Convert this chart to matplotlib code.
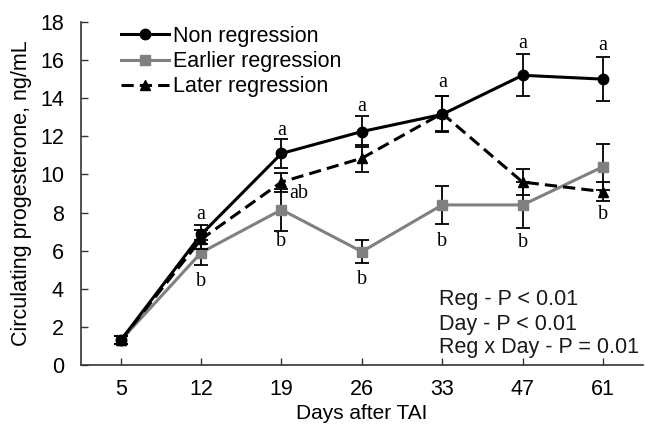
import matplotlib
matplotlib.use("Agg")
import matplotlib.pyplot as plt
from matplotlib.lines import Line2D
import numpy as np

days = ["5", "12", "19", "26", "33", "47", "61"]
non_mean = [1.3, 6.85, 11.1, 12.25, 13.15, 15.2, 15.0]
non_se = [0.2, 0.5, 0.75, 0.8, 0.95, 1.1, 1.15]
earlier_mean = [1.3, 5.9, 8.15, 5.95, 8.4, 8.4, 10.4]
earlier_se = [0.2, 0.65, 1.1, 0.6, 1.0, 1.2, 1.2]
later_mean = [1.3, 6.6, 9.6, 10.85, 13.2, 9.6, 9.1]
later_se = [0.2, 0.5, 0.5, 0.7, 0.9, 0.7, 0.5]

# significance letters: (category position, y value, text)
letters_a = [(1, 7.9, "a"), (2, 12.3, "a"), (3, 13.55, "a"), (4, 14.8, "a"), (5, 16.85, "a"), (6, 16.75, "a")]
letters_b = [(1, 4.4, "b"), (2, 6.5, "b"), (3, 4.5, "b"), (4, 6.5, "b"), (5, 6.45, "b"), (6, 7.9, "b")]
letters_ab = [(2.1, 9.0, "ab")]

stats_lines = ["Reg - P < 0.01", "Day - P < 0.01", "Reg x Day - P = 0.01"]

plt.rcParams['font.family'] = ['Liberation Sans', 'DejaVu Sans']

fig = plt.figure(figsize=(6.45, 4.30), dpi=100)
ax = fig.add_axes([0.125, 0.151, 0.872, 0.798])

x = np.arange(len(days))
gray = "#808080"
dash = (0, (4, 2))

common = dict(linewidth=2.2, ecolor="black", elinewidth=1.3, capsize=5, capthick=1.3)
ax.errorbar(x, earlier_mean, yerr=earlier_se, color=gray, marker="s", markersize=7.5,
            zorder=3, **common)
ax.errorbar(x, later_mean, yerr=later_se, color="black", marker="^", markersize=7.5,
            linestyle=dash, zorder=4, **common)
ax.errorbar(x, non_mean, yerr=non_se, color="black", marker="o", markersize=7.5,
            zorder=5, **common)

for xi, yi, t in letters_a + letters_b + letters_ab:
    ax.text(xi, yi, t, family=['Liberation Serif', 'DejaVu Serif'], fontsize=14.5,
            ha="center" if t != "ab" else "left", va="center", color="black", zorder=6)

handles = [
    Line2D([], [], color="black", marker="o", markersize=7.5, linewidth=2.2),
    Line2D([], [], color=gray, marker="s", markersize=7.5, linewidth=2.2),
    Line2D([], [], color="black", marker="^", markersize=7.5, linewidth=2.2, linestyle=dash),
]
labels = ["Non regression", "Earlier regression", "Later regression"]
fig.legend(handles, labels, loc="upper left", bbox_to_anchor=(0.175, 0.96),
           bbox_transform=fig.transFigure, frameon=False, fontsize=15.5,
           handlelength=2.2, handletextpad=0.2, labelspacing=0.2, borderaxespad=0)

for yy, line in zip([0.175, 0.102, 0.035], stats_lines):
    ax.text(0.6376, yy, line, transform=ax.transAxes, fontsize=15.5,
            ha="left", va="baseline", color="#1a1a1a")

ax.set_xlim(-0.5, len(days) - 0.5)
ax.set_ylim(0, 18)
ax.set_xticks(x)
ax.set_xticklabels(days)
ax.set_yticks(np.arange(0, 19, 2))
ax.tick_params(axis="both", direction="in", labelsize=15.5, length=5, width=1, color="#333333")
ax.tick_params(axis="x", pad=10)
ax.tick_params(axis="y", pad=12)
for s in ["top", "right"]:
    ax.spines[s].set_visible(False)
for s in ["left", "bottom"]:
    ax.spines[s].set_color("#333333")
    ax.spines[s].set_linewidth(1.2)

ax.set_xlabel("Days after TAI", fontsize=15, labelpad=3)
ax.set_ylabel("Circulating progesterone, ng/mL", fontsize=15.5, labelpad=6)

fig.savefig("out.png", dpi=100)
